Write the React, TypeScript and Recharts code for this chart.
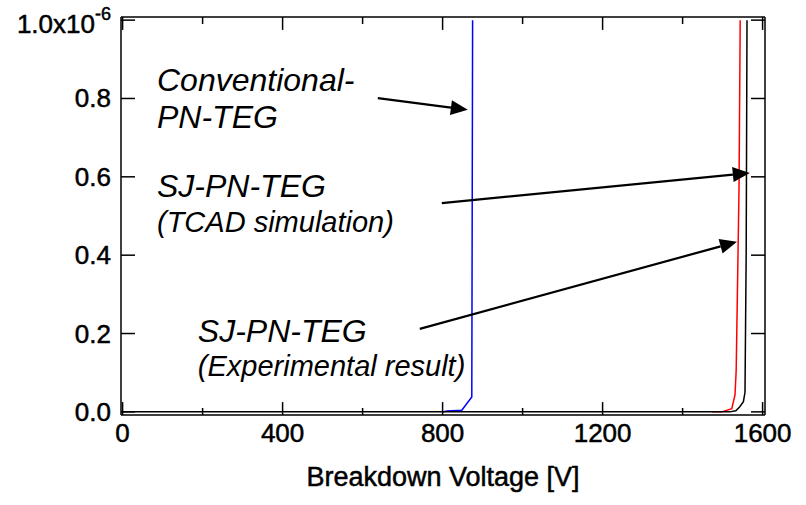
import React from "react"
import { LineChart, Line, XAxis, YAxis, ReferenceLine, ReferenceDot } from "recharts"

// voltage [V] / current [x1e-6 A]
const convVoltage = [800, 811, 848, 873, 875]
const convCurrent = [0, 0.002, 0.004, 0.038, 1.0]

const sjSimVoltage = [0, 1518, 1533, 1543, 1552, 1556, 1559, 1561]
const sjSimCurrent = [0, 0, 0.003, 0.013, 0.026, 0.05, 0.41, 1.0]

const sjExpVoltage = [1473, 1498, 1523, 1527, 1531, 1534, 1541, 1544]
const sjExpCurrent = [0, 0, 0.008, 0.026, 0.043, 0.107, 0.566, 1.0]

const xTicks = [0, 400, 800, 1200, 1600]
const xMinorTicks = [200, 600, 1000, 1400]
const yTicks = [0, 0.2, 0.4, 0.6, 0.8, 1.0]

const labelText = [
  "Conventional-",
  "PN-TEG",
  "SJ-PN-TEG",
  "(TCAD simulation)",
  "SJ-PN-TEG",
  "(Experimental result)",
]

// annotation anchors, in data units
const labelPos = [
  { v: 86, i: 0.82, size: 32 },
  { v: 86, i: 0.725, size: 32 },
  { v: 86, i: 0.548, size: 32 },
  { v: 86, i: 0.459, size: 29 },
  { v: 188, i: 0.178, size: 32 },
  { v: 188, i: 0.091, size: 29 },
]

const arrows = [
  { from: [638, 0.801], to: [863, 0.771] },
  { from: [798, 0.533], to: [1568, 0.61] },
  { from: [743, 0.212], to: [1536, 0.434] },
]

const X_DOMAIN: [number, number] = [-4, 1606]
const Y_DOMAIN: [number, number] = [-0.008, 1.008]
const TICK_MAJOR = 0.033
const TICK_MINOR = 0.018
const TICK_H = 35

const zip = (xs: number[], ys: number[]) => xs.map((v, k) => ({ v, i: ys[k] }))

const convData = zip(convVoltage, convCurrent)
const simData = zip(sjSimVoltage, sjSimCurrent)
const expData = zip(sjExpVoltage, sjExpCurrent)

const heavy = { stroke: "#000", strokeWidth: 0.5 }

function YTick({ x, y, payload }: any) {
  const val = payload.value as number
  if (val === 1) {
    return (
      <text x={x} y={y} dy={13} textAnchor="end" fontSize={26} fill="#000" {...heavy}>
        1.0x10
        <tspan dy={-13} fontSize={18}>-6</tspan>
      </text>
    )
  }
  return (
    <text x={x} y={y} dy={9} textAnchor="end" fontSize={26} fill="#000" {...heavy}>
      {val.toFixed(1)}
    </text>
  )
}

function XTick({ x, y, payload }: any) {
  return (
    <text x={x} y={y} dy={19} textAnchor="middle" fontSize={26} fill="#000" {...heavy}>
      {payload.value}
    </text>
  )
}

function Arrow(props: any) {
  const { x1, y1, x2, y2 } = props
  const dx = x2 - x1
  const dy = y2 - y1
  const len = Math.hypot(dx, dy)
  const ux = dx / len
  const uy = dy / len
  const bx = x2 - ux * 17
  const by = y2 - uy * 17
  const px = -uy * 7.5
  const py = ux * 7.5
  return (
    <g>
      <line x1={x1} y1={y1} x2={bx} y2={by} stroke="#000" strokeWidth={2.2} />
      <polygon points={`${x2},${y2} ${bx + px},${by + py} ${bx - px},${by - py}`} fill="#000" />
    </g>
  )
}

export default function App() {
  return (
    <div
      style={{
        position: "absolute",
        left: 0,
        top: 0,
        width: 806,
        height: 505,
        background: "#fff",
        fontFamily: "'Liberation Sans', Arial, sans-serif",
      }}
    >
      <LineChart width={806} height={505} margin={{ top: 17, right: 41, bottom: 0, left: 0 }}>
        <XAxis
          type="number"
          dataKey="v"
          domain={X_DOMAIN}
          ticks={xTicks}
          allowDataOverflow
          axisLine={false}
          tickLine={false}
          tickSize={0}
          tickMargin={8}
          height={90}
          tick={<XTick />}
          label={{
            value: "Breakdown Voltage [V]",
            position: "insideBottom",
            offset: 19,
            fontSize: 27,
            fill: "#000",
            ...heavy,
          }}
        />
        <YAxis
          type="number"
          domain={Y_DOMAIN}
          ticks={yTicks}
          allowDataOverflow
          axisLine={false}
          tickLine={false}
          tickSize={0}
          tickMargin={10}
          width={121}
          tick={<YTick />}
        />

        {/* frame */}
        <ReferenceLine x={X_DOMAIN[0]} stroke="#000" strokeWidth={1.5} />
        <ReferenceLine x={X_DOMAIN[1]} stroke="#000" strokeWidth={1.5} />
        <ReferenceLine y={Y_DOMAIN[0]} stroke="#000" strokeWidth={1.5} />
        <ReferenceLine y={Y_DOMAIN[1]} stroke="#000" strokeWidth={1.5} />

        {/* inward ticks */}
        {xTicks.map((t) => (
          <ReferenceLine key={`xb${t}`} segment={[{ x: t, y: Y_DOMAIN[0] }, { x: t, y: Y_DOMAIN[0] + TICK_MAJOR }]} stroke="#000" strokeWidth={1.5} />
        ))}
        {xTicks.map((t) => (
          <ReferenceLine key={`xt${t}`} segment={[{ x: t, y: Y_DOMAIN[1] }, { x: t, y: Y_DOMAIN[1] - TICK_MAJOR }]} stroke="#000" strokeWidth={1.5} />
        ))}
        {xMinorTicks.map((t) => (
          <ReferenceLine key={`xmb${t}`} segment={[{ x: t, y: Y_DOMAIN[0] }, { x: t, y: Y_DOMAIN[0] + TICK_MINOR }]} stroke="#000" strokeWidth={1.5} />
        ))}
        {xMinorTicks.map((t) => (
          <ReferenceLine key={`xmt${t}`} segment={[{ x: t, y: Y_DOMAIN[1] }, { x: t, y: Y_DOMAIN[1] - TICK_MINOR }]} stroke="#000" strokeWidth={1.5} />
        ))}
        {yTicks.map((t) => (
          <ReferenceLine key={`yl${t}`} segment={[{ x: X_DOMAIN[0], y: t }, { x: X_DOMAIN[0] + TICK_H, y: t }]} stroke="#000" strokeWidth={1.5} />
        ))}
        {yTicks.map((t) => (
          <ReferenceLine key={`yr${t}`} segment={[{ x: X_DOMAIN[1], y: t }, { x: X_DOMAIN[1] - TICK_H, y: t }]} stroke="#000" strokeWidth={1.5} />
        ))}

        <Line data={convData} dataKey="i" type="linear" stroke="#0000ff" strokeWidth={1.5} dot={false} activeDot={false} isAnimationActive={false} />
        <Line data={expData} dataKey="i" type="linear" stroke="#ff0000" strokeWidth={1.5} dot={false} activeDot={false} isAnimationActive={false} />
        <Line data={simData} dataKey="i" type="linear" stroke="#000000" strokeWidth={1.5} dot={false} activeDot={false} isAnimationActive={false} />

        {arrows.map((a, k) => (
          <ReferenceLine
            key={`ar${k}`}
            segment={[{ x: a.from[0], y: a.from[1] }, { x: a.to[0], y: a.to[1] }]}
            shape={(p: any) => <Arrow {...p} />}
          />
        ))}
        {labelPos.map((p, k) => (
          <ReferenceDot
            key={`lb${k}`}
            x={p.v}
            y={p.i}
            r={0}
            shape={(s: any) => (
              <text x={s.cx} y={s.cy} fontSize={p.size} fontStyle="italic" fill="#000">
                {labelText[k]}
              </text>
            )}
          />
        ))}
      </LineChart>
    </div>
  )
}
